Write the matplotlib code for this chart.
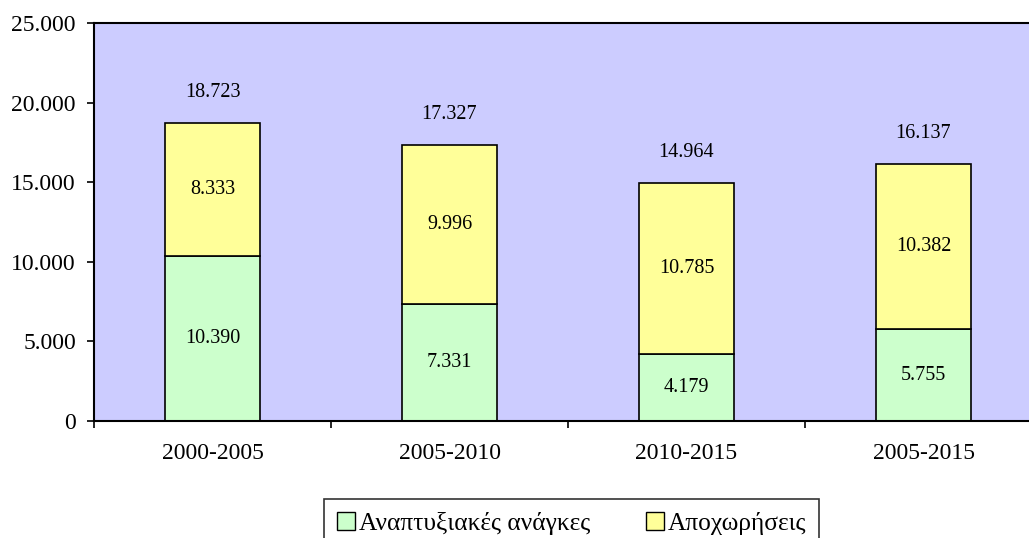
import numpy as np
import matplotlib.pyplot as plt
from matplotlib.patches import Patch

periods = ['2000-2005', '2005-2010', '2010-2015', '2005-2015']
development = [10390, 7331, 4179, 5755]
retirements = [8333, 9996, 10785, 10382]
labels = ['Αναπτυξιακές ανάγκες', 'Αποχωρήσεις']
yticks = [0, 5000, 10000, 15000, 20000, 25000]


def fmt(v):
    return f"{v:,}".replace(',', '.')


plt.rcParams['font.family'] = ['Liberation Serif', 'DejaVu Serif']

fig = plt.figure(figsize=(10.29, 5.38), dpi=100)
ax = fig.add_axes([94 / 1029, 1 - 421 / 538, 948 / 1029, 398 / 538])
ax.set_facecolor('#CCCCFF')

x = np.arange(len(periods))
totals = [a + b for a, b in zip(development, retirements)]
ax.bar(x, development, width=0.4, color='#CCFFCC', edgecolor='black', linewidth=1.2)
ax.bar(x, retirements, width=0.4, bottom=development, color='#FFFF99',
       edgecolor='black', linewidth=1.2)

for i in range(len(periods)):
    ax.text(x[i], development[i] / 2, fmt(development[i]), ha='center', va='center', fontsize=14.5)
    ax.text(x[i], development[i] + retirements[i] / 2, fmt(retirements[i]),
            ha='center', va='center', fontsize=14.5)
    ax.annotate(fmt(totals[i]), (x[i], totals[i]), xytext=(0, 22), textcoords='offset points',
                ha='center', va='center', fontsize=14.5)

ax.set_xlim(-0.5, len(periods) - 0.5)
ax.set_ylim(0, 25000)
ax.set_yticks(yticks)
ax.set_yticklabels([fmt(v) for v in yticks], fontsize=17)
ax.set_xticks(np.arange(-0.5, len(periods), 1.0))
ax.set_xticklabels([])
ax.set_xticks(x, minor=True)
ax.set_xticklabels(periods, minor=True, fontsize=17)
ax.tick_params(axis='x', which='minor', length=0, pad=16)
ax.tick_params(axis='x', which='major', length=5, width=1.2, direction='out')
ax.tick_params(axis='y', length=5, width=1.2, direction='out', pad=8)
for s in ax.spines.values():
    s.set_linewidth(1.5)

handles = [Patch(facecolor='#CCFFCC', edgecolor='black'),
           Patch(facecolor='#FFFF99', edgecolor='black')]
leg = fig.legend(handles, labels, loc='upper left', bbox_to_anchor=(324 / 1029, 1 - 499 / 538),
                 ncol=2, fontsize=18.3, frameon=True, fancybox=False, handlelength=0.72,
                 handleheight=0.72, handletextpad=0.15, columnspacing=2.2, borderpad=0.5,
                 borderaxespad=0)
leg.get_frame().set_edgecolor('black')
leg.get_frame().set_linewidth(1.2)

fig.savefig('out.png', dpi=100)
